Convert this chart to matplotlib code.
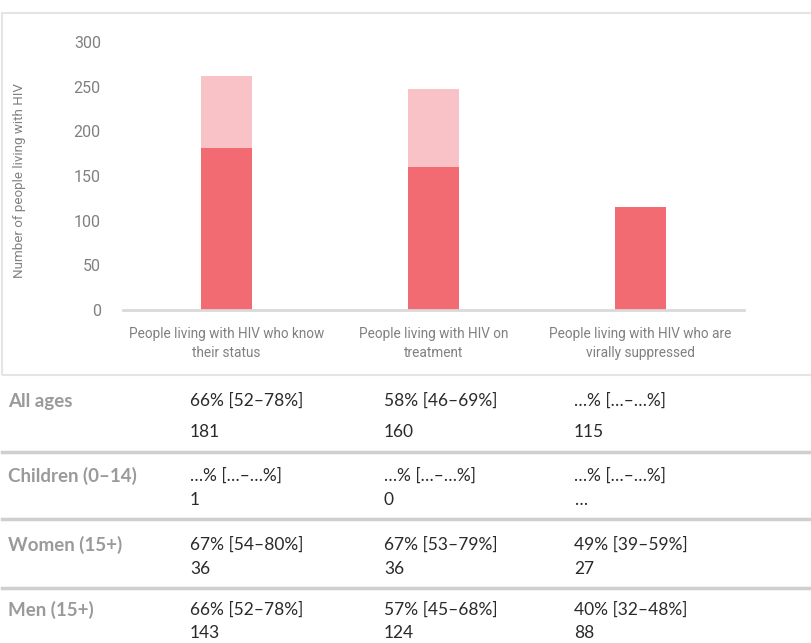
import matplotlib.pyplot as plt
from matplotlib.patches import Rectangle
from matplotlib.lines import Line2D
import numpy as np

# chart data
categories = ['People living with HIV who know\ntheir status',
              'People living with HIV on\ntreatment',
              'People living with HIV who are\nvirally suppressed']
achieved = [181, 160, 115]
gap = [81, 87, 0]  # light segment on top of each bar
yticks = [0, 50, 100, 150, 200, 250, 300]

# table data
row_labels = ['All ages', 'Children (0–14)', 'Women (15+)', 'Men (15+)']
pct_know = ['66% [52–78%]', '…% […–…%]', '67% [54–80%]', '66% [52–78%]']
pct_treat = ['58% [46–69%]', '…% […–…%]', '67% [53–79%]', '57% [45–68%]']
pct_supp = ['…% […–…%]', '…% […–…%]', '49% [39–59%]', '40% [32–48%]']
n_know = ['181', '1', '36', '143']
n_treat = ['160', '0', '36', '124']
n_supp = ['115', '…', '27', '88']

W, H = 811, 643
DARK = '#F26A72'
LIGHT = '#F9C2C6'
COND = ['Roboto', 'DejaVu Sans']
TAB = ['Lato', 'DejaVu Sans']

fig = plt.figure(figsize=(W / 100, H / 100), dpi=100)


def fx(px):
    return px / W


def fy(py):
    return 1 - py / H


# framed chart area
fig.patches.append(Rectangle((fx(2), fy(375)), fx(830), fy(13) - fy(375),
                             transform=fig.transFigure, fill=False,
                             edgecolor='#e4e4e4', linewidth=1.5))

ax = fig.add_axes([fx(123), fy(310), fx(744) - fx(123), fy(42) - fy(310)])
x = np.arange(len(categories))
ax.bar(x, achieved, width=0.25, color=DARK, zorder=2)
ax.bar(x, gap, width=0.25, bottom=achieved, color=LIGHT, zorder=2)
ax.set_xlim(-0.5, len(categories) - 0.5)
ax.set_ylim(0, 300)
ax.set_yticks(yticks)
ax.set_yticklabels([str(t) for t in yticks], family=COND, fontsize=11.5, color='#808080')
ax.set_xticks(x)
ax.set_xticklabels(categories, family=COND, fontsize=9.8, color='#808080', linespacing=1.5)
ax.tick_params(length=0)
ax.tick_params(axis='y', pad=16)
ax.tick_params(axis='x', pad=12)
for s in ['top', 'right', 'left']:
    ax.spines[s].set_visible(False)
ax.spines['bottom'].set_color('#d9d9d9')
ax.spines['bottom'].set_linewidth(2)
ax.set_facecolor('none')

fig.text(fx(20), fy(181), 'Number of people living with HIV', rotation=90,
         ha='center', va='center', family=COND, fontsize=9.6, color='#808080')

# table below the chart
row_y = [(401, 432), (476, 500), (545, 569), (610, 633)]
col_x = [190, 384, 574]
pcts = [pct_know, pct_treat, pct_supp]
nums = [n_know, n_treat, n_supp]
for i, label in enumerate(row_labels):
    y1, y2 = row_y[i]
    fig.text(fx(8), fy(y1), label, ha='left', va='center', family=TAB,
             fontsize=13.5, fontweight='bold', color='#9a9a9a')
    for j in range(3):
        fig.text(fx(col_x[j]), fy(y1), pcts[j][i], ha='left', va='center',
                 family=TAB, fontsize=12.5, color='#2a2a2a')
        fig.text(fx(col_x[j]), fy(y2), nums[j][i], ha='left', va='center',
                 family=TAB, fontsize=12.5, color='#2a2a2a')

for ly in [452, 519, 588]:
    fig.add_artist(Line2D([fx(2), 1], [fy(ly), fy(ly)], transform=fig.transFigure,
                          color='#cfcfcf', linewidth=2.5))

fig.savefig('out.png', dpi=100)
